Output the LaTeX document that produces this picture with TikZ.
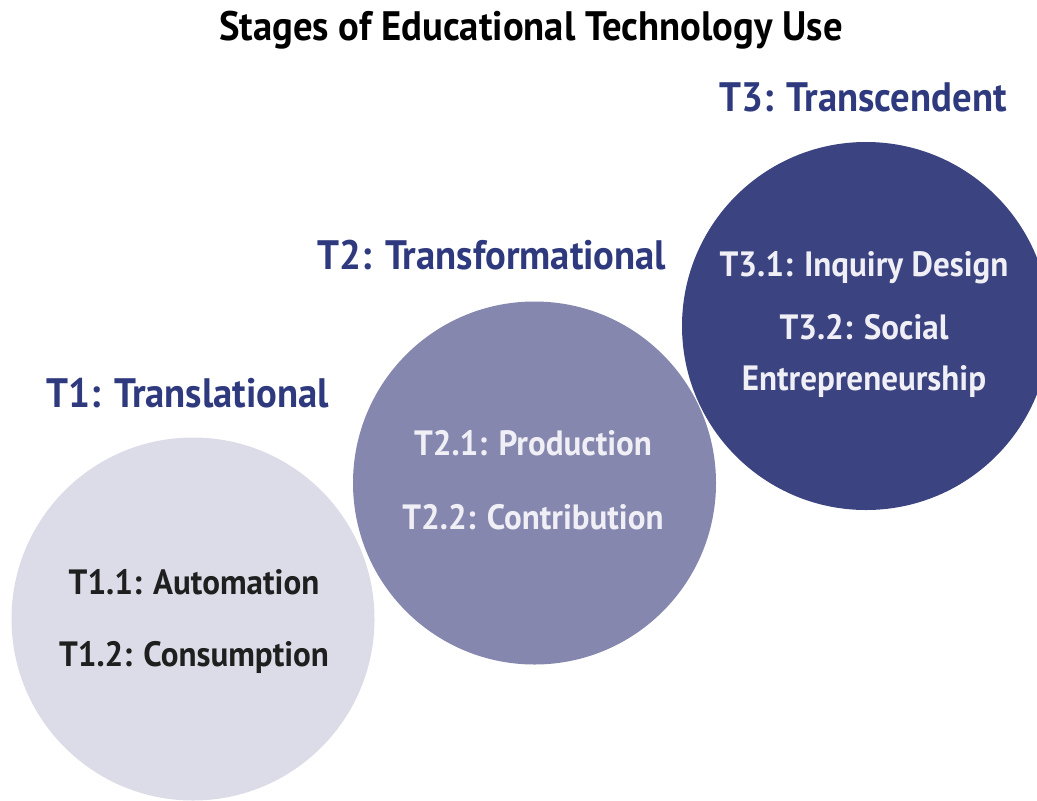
\documentclass[tikz,border=0pt]{standalone}
\usepackage{fontspec}
\setmainfont{PT Sans}[FakeStretch=0.94]
\definecolor{lightstage}{HTML}{DCDCE8}
\definecolor{midstage}{HTML}{8587AF}
\definecolor{darkstage}{HTML}{3B4381}
\definecolor{labelblue}{HTML}{2F3A7E}
\definecolor{paletext}{HTML}{EFEFF5}
\begin{document}
\begin{tikzpicture}[x=0.01cm,y=-0.01cm,
  heading/.style={font=\fontsize{11.7}{13}\selectfont\bfseries, text=labelblue},
  item/.style={font=\fontsize{10}{12.6}\selectfont\bfseries, align=center}]
\useasboundingbox (0,0) rectangle (1037,800);
% Circles
\fill [lightstage] (193,619) circle (181.5);
\fill [midstage] (534.5,483) circle (181.5);
\fill [darkstage] (866,326) circle (184);
% Title
\node (title) at (531,30) {\fontsize{11.7}{13}\selectfont\bfseries Stages of Educational Technology Use};
% Stage headings
\node [heading] (t1) at (188,393) {T1: Translational};
\node [heading] (t2) at (492,255) {T2: Transformational};
\node [heading] (t3) at (863,97) {T3: Transcendent};
% Stage items
\node [item, text=black!88] (t11) at (194,582) {T1.1: Automation};
\node [item, text=black!88] (t12) at (194,657) {T1.2: Consumption};
\node [item, text=paletext] (t21) at (533,443) {T2.1: Production};
\node [item, text=paletext] (t22) at (533,517) {T2.2: Contribution};
\node [item, text=paletext] (t31) at (864,268) {T3.1: Inquiry Design};
\node [item, text=paletext] (t32) at (864,356) {T3.2: Social\\[2pt]Entrepreneurship};
\end{tikzpicture}
\end{document}
